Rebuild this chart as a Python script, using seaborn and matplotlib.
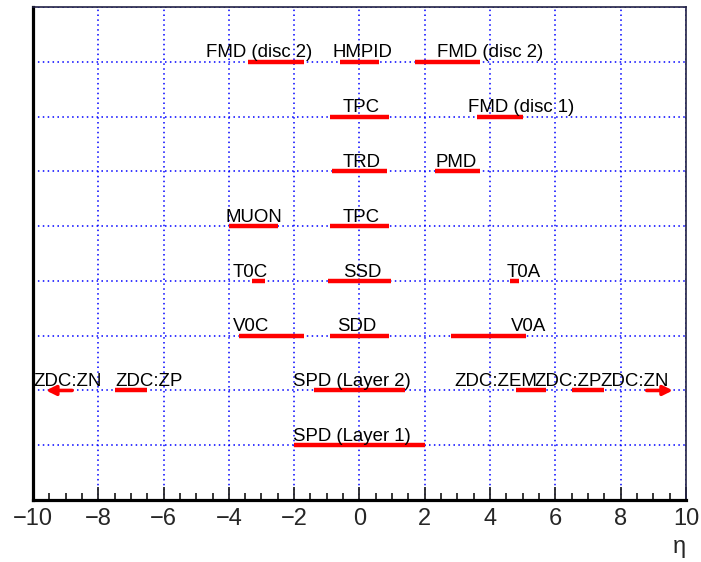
import pandas as pd
import seaborn as sns
import matplotlib.pyplot as plt

# === Detector acceptance in pseudorapidity (one entry per segment) ===
det_names = ["FMD (disc 2)", "HMPID", "FMD (disc 2)",
             "TPC", "FMD (disc 1)",
             "TRD", "PMD",
             "MUON", "TPC",
             "T0C", "SSD", "T0A",
             "V0C", "SDD", "V0A",
             "ZDC:ZN", "ZDC:ZP", "SPD (Layer 2)", "ZDC:ZEM", "ZDC:ZP", "ZDC:ZN",
             "SPD (Layer 1)"]
det_row = [8, 8, 8,
           7, 7,
           6, 6,
           5, 5,
           4, 4, 4,
           3, 3, 3,
           2, 2, 2, 2, 2, 2,
           1]
eta_min = [-3.4, -0.6, 1.7,
           -0.9, 3.6,
           -0.84, 2.3,
           -4.0, -0.9,
           -3.3, -0.97, 4.6,
           -3.7, -0.9, 2.8,
           -8.8, -7.5, -1.4, 4.8, 6.5, 8.8,
           -2.0]
eta_max = [-1.7, 0.6, 3.68,
           0.9, 5.0,
           0.84, 3.7,
           -2.5, 0.9,
           -2.9, 0.97, 4.9,
           -1.7, 0.9, 5.1,
           -9.6, -6.5, 1.4, 5.7, 7.5, 9.6,
           2.0]
# ZDC:ZN goes beyond the plotted range -> drawn as arrow
is_arrow = [False] * 15 + [True, False, False, False, False, True] + [False]
# left edge of each label (in eta)
label_eta = [-4.70, -0.84, 2.37,
             -0.50, 3.32,
             -0.50, 2.34,
             -4.09, -0.50,
             -3.87, -0.50, 4.52,
             -3.87, -0.69, 4.64,
             -10.0, -7.49, -2.04, 2.92, 5.36, 7.38,
             -2.04]

# === Long-format table for seaborn ===
recs = []
for i, (r, a, b, arr) in enumerate(zip(det_row, eta_min, eta_max, is_arrow)):
    if arr:
        continue
    recs.append({"seg": i, "eta": a, "row": r})
    recs.append({"seg": i, "eta": b, "row": r})
df = pd.DataFrame(recs)

sns.set_theme(style="ticks")
plt.rcParams["font.family"] = ["Liberation Sans", "DejaVu Sans"]

fig = plt.figure(figsize=(7.01, 5.62), dpi=100)
ax = fig.add_axes([0.047, 0.1103, 0.9315, 0.8772])

sns.lineplot(data=df, x="eta", y="row", units="seg", estimator=None, sort=False,
             color="red", lw=3.2, solid_capstyle="butt", legend=False, ax=ax)

for a, b, r, arr in zip(eta_min, eta_max, det_row, is_arrow):
    if arr:
        ax.annotate("", xy=(b, r), xytext=(a, r),
                    arrowprops=dict(arrowstyle="-|>", color="red", lw=2.6,
                                    mutation_scale=14, shrinkA=0, shrinkB=0))

for name, lx, r in zip(det_names, label_eta, det_row):
    ax.text(lx, r + 0.08, name, fontsize=13.4, ha="left", va="baseline", color="black")

# === Axes formatting (ROOT-like frame) ===
ax.set_xlim(-10, 10)
ax.set_ylim(0, 9)
ax.set_xticks(range(-10, 11, 2))
ax.set_xticks([x / 2 for x in range(-20, 21)], minor=True)
ax.set_yticks(range(1, 10))
ax.set_yticklabels([])
ax.tick_params(axis="y", length=0)
ax.tick_params(axis="x", which="major", direction="in", length=9.5, width=1.3,
               labelsize=17, pad=6)
ax.tick_params(axis="x", which="minor", direction="in", length=5, width=1.3)
ax.grid(True, which="major", color="blue", linestyle=(0, (1, 2.2)), lw=1.1)
ax.set_axisbelow(True)

for side in ["left", "bottom"]:
    ax.spines[side].set_linewidth(2.3)
    ax.spines[side].set_color("black")
for side in ["top", "right"]:
    ax.spines[side].set_linewidth(1.2)
    ax.spines[side].set_color("#222244")

ax.set_xlabel("η", fontsize=17, loc="right", labelpad=4)
ax.set_ylabel("")

plt.savefig("out.png", dpi=100)
plt.close()
